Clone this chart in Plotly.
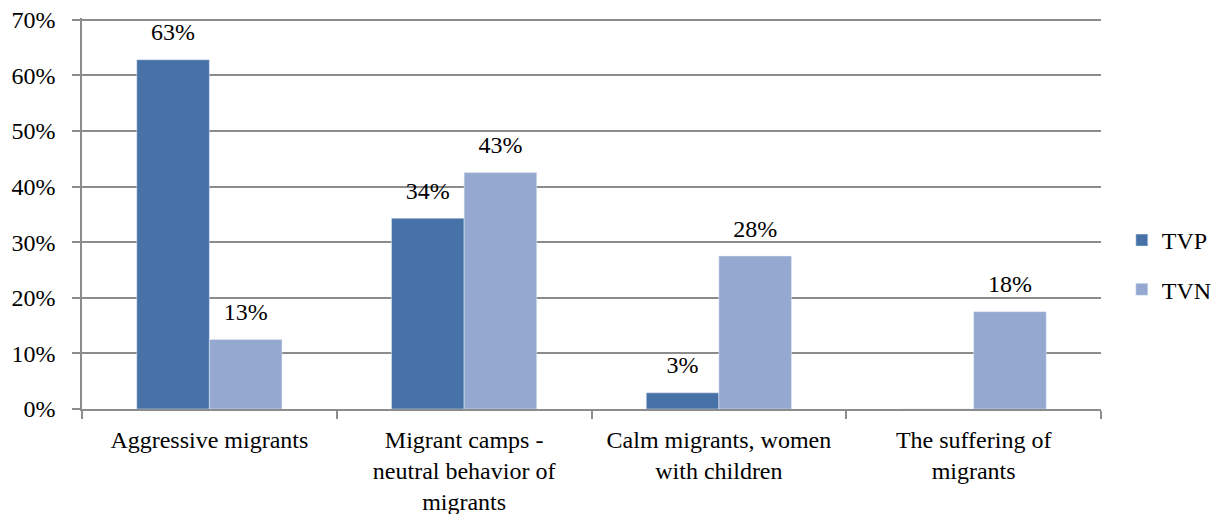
import plotly.graph_objects as go

# Categories and series (percent)
categories = [
    "Aggressive migrants",
    "Migrant camps -<br>neutral behavior of<br>migrants",
    "Calm migrants, women<br>with children",
    "The suffering of<br>migrants",
]
tvp_values = [62.8, 34.3, 2.9, 0]
tvn_values = [12.5, 42.5, 27.5, 17.5]
tvp_labels = ["63%", "34%", "3%", ""]
tvn_labels = ["13%", "43%", "28%", "18%"]
y_ticks = [0, 10, 20, 30, 40, 50, 60, 70]

font_name = "Liberation Serif"
grid_col = "#8c8c8c"

fig = go.Figure()

# Bars
fig.add_trace(go.Bar(x=categories, y=tvp_values, name="TVP", marker_color="#4672A8",
                     offsetgroup="TVP", legendgroup="TVP"))
fig.add_trace(go.Bar(x=categories, y=tvn_values, name="TVN", marker_color="#95A9D0",
                     offsetgroup="TVN", legendgroup="TVN"))

# Data labels (hidden markers push the text a bit above the bar tops)
for vals, labels, grp in [(tvp_values, tvp_labels, "TVP"), (tvn_values, tvn_labels, "TVN")]:
    fig.add_trace(go.Scatter(
        x=categories, y=vals, text=labels, mode="markers+text",
        textposition="top center", offsetgroup=grp, showlegend=False,
        marker=dict(size=20, opacity=0), cliponaxis=False,
        textfont=dict(family=font_name, size=24, color="black"),
        hoverinfo="skip",
    ))

# page body adds 8px around the figure, so size/margins are trimmed by that
fig.update_layout(
    width=1212, height=514,
    barmode="group", bargap=0.43, bargroupgap=0,
    scattermode="group", scattergap=0.43,
    plot_bgcolor="white", paper_bgcolor="white",
    margin=dict(l=74, r=119, t=10, b=113),
    font=dict(family=font_name, size=24, color="black"),
    legend=dict(xref="container", yref="container", x=0.919, y=0.5,
                yanchor="middle", xanchor="left",
                traceorder="grouped", tracegroupgap=15),
)
fig.update_yaxes(
    range=[0, 70.3], tickvals=y_ticks, ticktext=[f"{v}%" for v in y_ticks],
    showgrid=True, gridcolor=grid_col, gridwidth=1.5,
    showline=True, linecolor=grid_col, linewidth=1.5,
    ticks="outside", ticklen=8, tickcolor=grid_col, tickwidth=1.5,
    ticklabelstandoff=12, ticklabeloverflow="allow",
    zeroline=False, automargin=False,
)
fig.update_xaxes(
    showline=True, linecolor=grid_col, linewidth=1.5,
    ticks="outside", tickson="boundaries", ticklen=8, tickcolor=grid_col, tickwidth=1.5,
    ticklabelstandoff=8, tickangle=0, automargin=False,
)

fig.write_html("out.html")
